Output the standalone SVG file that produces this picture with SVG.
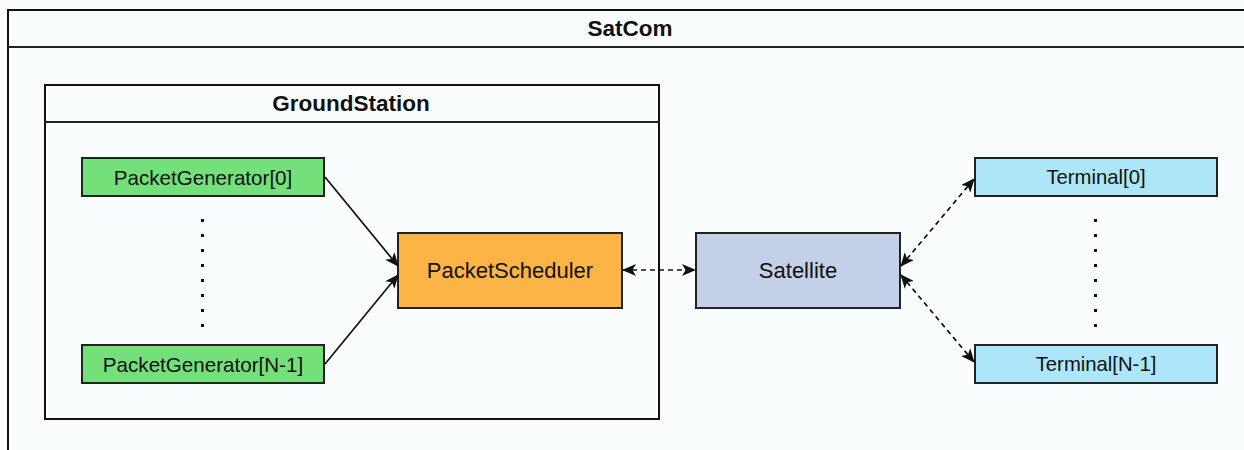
<svg xmlns="http://www.w3.org/2000/svg" width="1244" height="450" viewBox="0 0 1244 450">
<style>
.box{stroke:#222;stroke-width:2}
.t{font-family:"Liberation Sans",Arial,sans-serif;fill:#111;text-anchor:middle;dominant-baseline:central}
.h{font-weight:bold}
.c{fill:none;stroke:#111;stroke-width:1.7}
.d{stroke-dasharray:5 4}
.dot{fill:#111}
</style>
<defs>
<marker id="ah" viewBox="0 0 14 12" refX="13" refY="6" markerWidth="14" markerHeight="12" markerUnits="userSpaceOnUse" orient="auto-start-reverse">
<path d="M0,0 L14,6 L0,12 L3.5,6 Z" fill="#111"/>
</marker>
</defs>
<rect width="1244" height="450" fill="#f9fdfd"/>
<g id="SatCom">
<rect x="8" y="10" width="1250" height="460" fill="none" stroke="#111" stroke-width="2"/>
<line x1="8" y1="47" x2="1244" y2="47" stroke="#222" stroke-width="2"/>
<text class="t h" x="630" y="28" font-size="22.5">SatCom</text>
</g>
<g id="GroundStation">
<rect x="45" y="85" width="614" height="334" fill="none" stroke="#111" stroke-width="2"/>
<line x1="45" y1="122" x2="659" y2="122" stroke="#222" stroke-width="2"/>
<text class="t h" x="351" y="103" font-size="22.5">GroundStation</text>
</g>
<g id="PacketGenerator0">
<rect class="box" x="82" y="158" width="242" height="38" fill="#73e07a"/>
<text class="t" x="203" y="177" font-size="20.6">PacketGenerator[0]</text>
</g>
<g id="PacketGeneratorN1">
<rect class="box" x="82" y="345" width="242" height="38" fill="#73e07a"/>
<text class="t" x="203" y="364" font-size="20.6">PacketGenerator[N-1]</text>
</g>
<g id="GeneratorDots">
<rect class="dot" x="201" y="219" width="3" height="3"/>
<rect class="dot" x="201" y="234" width="3" height="3"/>
<rect class="dot" x="201" y="249" width="3" height="3"/>
<rect class="dot" x="201" y="264" width="3" height="3"/>
<rect class="dot" x="201" y="279" width="3" height="3"/>
<rect class="dot" x="201" y="294" width="3" height="3"/>
<rect class="dot" x="201" y="309" width="3" height="3"/>
<rect class="dot" x="201" y="324" width="3" height="3"/>
</g>
<g id="PacketScheduler">
<rect class="box" x="398" y="233" width="224" height="75" fill="#fbb445"/>
<text class="t" x="510" y="270" font-size="22">PacketScheduler</text>
</g>
<g id="Satellite">
<rect class="box" x="696" y="233" width="204" height="75" fill="#c4cfe8"/>
<text class="t" x="798" y="270" font-size="22">Satellite</text>
</g>
<g id="Terminal0">
<rect class="box" x="975" y="158" width="242" height="38" fill="#ade6f8"/>
<text class="t" x="1096" y="177" font-size="20.3">Terminal[0]</text>
</g>
<g id="TerminalN1">
<rect class="box" x="975" y="345" width="242" height="38" fill="#ade6f8"/>
<text class="t" x="1096" y="364" font-size="20.3">Terminal[N-1]</text>
</g>
<g id="TerminalDots">
<rect class="dot" x="1094" y="219" width="3" height="3"/>
<rect class="dot" x="1094" y="234" width="3" height="3"/>
<rect class="dot" x="1094" y="249" width="3" height="3"/>
<rect class="dot" x="1094" y="264" width="3" height="3"/>
<rect class="dot" x="1094" y="279" width="3" height="3"/>
<rect class="dot" x="1094" y="294" width="3" height="3"/>
<rect class="dot" x="1094" y="309" width="3" height="3"/>
<rect class="dot" x="1094" y="324" width="3" height="3"/>
</g>
<g id="connectors">
<line class="c" x1="325" y1="177" x2="398" y2="266" marker-end="url(#ah)"/>
<line class="c" x1="325" y1="364" x2="398" y2="275" marker-end="url(#ah)"/>
<line class="c d" x1="623" y1="270" x2="695" y2="270" marker-start="url(#ah)" marker-end="url(#ah)"/>
<line class="c d" x1="901" y1="266" x2="974" y2="179" marker-start="url(#ah)" marker-end="url(#ah)"/>
<line class="c d" x1="901" y1="275" x2="974" y2="362" marker-start="url(#ah)" marker-end="url(#ah)"/>
</g>
</svg>
